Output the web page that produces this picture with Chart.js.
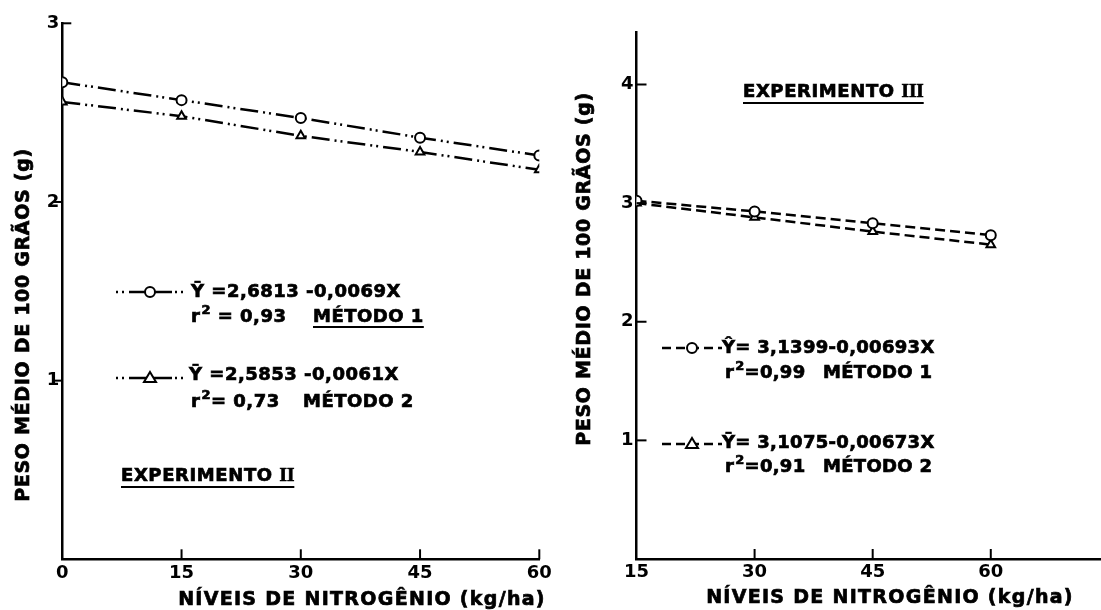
<!DOCTYPE html>
<html>
<head>
<meta charset="utf-8">
<script src="https://cdn.jsdelivr.net/npm/chart.js@4.4.0/dist/chart.umd.min.js"></script>
<style>
html, body { margin: 0; padding: 0; background: #fff; }
#wrap { position: relative; width: 1101px; height: 610px; overflow: hidden; background: #fff; }
#c1 { position: absolute; left: 0; top: 0; }
#c2 { position: absolute; left: 565px; top: 0; }
</style>
</head>
<body>
<div id="wrap">
  <canvas id="c1" width="565" height="610"></canvas>
  <canvas id="c2" width="536" height="610"></canvas>
</div>
<script>
// Experimento II
const nivelII = [0, 15, 30, 45, 60];
const metodo1II = [2.67, 2.57, 2.47, 2.36, 2.26];
const metodo2II = [2.56, 2.48, 2.37, 2.28, 2.18];
const xTicksII = [0, 15, 30, 45, 60];
const yTicksII = [1, 2, 3];

// Experimento III
const nivelIII = [15, 30, 45, 60];
const metodo1III = [3.02, 2.93, 2.83, 2.73];
const metodo2III = [3.00, 2.88, 2.76, 2.65];
const xTicksIII = [15, 30, 45, 60];
const yTicksIII = [1, 2, 3, 4];

const FONTE = 'DejaVu Sans';
const tituloX = 'NÍVEIS DE NITROGÊNIO (kg/ha)';
const tituloY = 'PESO MÉDIO DE 100 GRÃOS (g)';

function pares(xs, ys){ return xs.map((x, i) => ({ x, y: ys[i] })); }

function serie(xs, ys, estilo, tracejado){
  return {
    data: pares(xs, ys),
    borderColor: '#000', borderWidth: 2.5, borderDash: tracejado,
    pointStyle: estilo, pointRadius: 5, pointBorderWidth: 2,
    pointBackgroundColor: '#fff', pointBorderColor: '#000',
    fill: false, tension: 0
  };
}

function eixo(min, max, valores, extra){
  return Object.assign({
    type: 'linear', min, max,
    afterBuildTicks(s){ s.ticks = valores.map(v => ({ value: v })); },
    grid: { display: false, drawTicks: false },
    border: { display: true, color: '#000', width: 2.5 },
    ticks: { color: '#000', font: { family: FONTE, weight: 'bold', size: 18 }, maxRotation: 0, autoSkip: false }
  }, extra);
}

// helpers de texto
function fonte(ctx, size, fam){ ctx.font = 'bold ' + size + 'px "' + (fam || FONTE) + '"'; }
function texto(ctx, s, x, y, size, fam){
  fonte(ctx, size, fam);
  ctx.save(); ctx.setLineDash([]); ctx.lineWidth = 0.7;
  ctx.fillText(s, x, y); ctx.strokeText(s, x, y);
  ctx.restore();
  return x + ctx.measureText(s).width;
}
function sublinha(ctx, x1, x2, y){ ctx.save(); ctx.setLineDash([]); ctx.lineWidth = 2; ctx.beginPath(); ctx.moveTo(x1, y); ctx.lineTo(x2, y); ctx.stroke(); ctx.restore(); }
function r2(ctx, x, y, resto){
  let px = texto(ctx, 'r', x, y, 18);
  px = texto(ctx, '2', px + 1, y - 8, 13);
  return texto(ctx, resto, px, y, 18);
}
function marcador(ctx, tipo, x, y){
  ctx.save(); ctx.setLineDash([]); ctx.lineWidth = 2; ctx.fillStyle = '#fff';
  ctx.beginPath();
  if (tipo === 'circle') ctx.arc(x, y, 5, 0, Math.PI * 2);
  else { ctx.moveTo(x, y - 6); ctx.lineTo(x + 6, y + 4); ctx.lineTo(x - 6, y + 4); ctx.closePath(); }
  ctx.fill(); ctx.stroke(); ctx.restore();
}
function traco(ctx, x1, x2, y, dash){
  ctx.save(); ctx.lineWidth = 2.5; ctx.setLineDash(dash); ctx.beginPath(); ctx.moveTo(x1, y); ctx.lineTo(x2, y); ctx.stroke(); ctx.restore();
}
function experimento(ctx, num, x, y){
  ctx.letterSpacing = '0.6px';
  const px = texto(ctx, 'EXPERIMENTO ', x, y, 18);
  ctx.letterSpacing = '0px';
  const fim = texto(ctx, num, px, y, 19, 'Liberation Serif');
  sublinha(ctx, x, fim, y + 6);
}
function titulos(ctx, xc, xy, yx, yc){
  ctx.save(); fonte(ctx, 19); ctx.textAlign = 'center'; ctx.textBaseline = 'middle'; ctx.lineWidth = 0.7;
  ctx.letterSpacing = '1.3px';
  ctx.fillText(tituloX, xc, xy); ctx.strokeText(tituloX, xc, xy);
  ctx.letterSpacing = '0.7px';
  ctx.translate(yx, yc); ctx.rotate(-Math.PI / 2);
  ctx.fillText(tituloY, 0, 0); ctx.strokeText(tituloY, 0, 0);
  ctx.restore();
}

// marcas de escala desenhadas a partir das escalas do gráfico
function marcas(xLen, yLen){
  return {
    id: 'marcas',
    afterDraw(chart){
      const { ctx, scales: { x, y } } = chart;
      ctx.save(); ctx.strokeStyle = '#000'; ctx.lineWidth = 2;
      x.ticks.forEach(t => {
        if (t.value === x.min) return;
        const px = x.getPixelForValue(t.value);
        ctx.beginPath(); ctx.moveTo(px, y.bottom); ctx.lineTo(px, y.bottom - xLen); ctx.stroke();
      });
      y.ticks.forEach(t => {
        const py = y.getPixelForValue(t.value);
        const d = (t.value === y.max) ? Math.abs(yLen) : yLen;
        ctx.beginPath(); ctx.moveTo(x.left, py); ctx.lineTo(x.left + d, py); ctx.stroke();
      });
      ctx.restore();
    }
  };
}

const base = { responsive: false, animation: false, devicePixelRatio: 1, events: [], plugins: { legend: { display: false }, tooltip: { enabled: false } } };

// Gráfico esquerdo
new Chart(document.getElementById('c1'), {
  type: 'line',
  data: { datasets: [
    serie(nivelII, metodo1II, 'circle', [18, 5, 2, 4, 2, 5]),
    serie(nivelII, metodo2II, 'triangle', [18, 5, 2, 4, 2, 5])
  ] },
  options: Object.assign({}, base, {
    layout: { autoPadding: false, padding: { top: 23.3, right: 25.7, left: 0, bottom: 0 } },
    scales: {
      x: eixo(0, 60, xTicksII, { afterFit(s){ s.height = 50.7; } }),
      y: eixo(0, 3, yTicksII, { afterFit(s){ s.width = 62.3; } })
    }
  }),
  plugins: [marcas(10, -9), {
    id: 'notasII',
    afterDraw(chart){
      const ctx = chart.ctx;
      ctx.save(); ctx.fillStyle = '#000'; ctx.strokeStyle = '#000'; ctx.textBaseline = 'alphabetic';
      traco(ctx, 116, 128, 292, [2, 4]); traco(ctx, 129, 172, 292, []); traco(ctx, 175, 187, 292, [2, 4]);
      marcador(ctx, 'circle', 150, 292);
      ctx.letterSpacing = '0.5px';
      texto(ctx, 'Ȳ =2,6813 -0,0069X', 191, 297, 18);
      r2(ctx, 191, 322, ' = 0,93');
      const fim1 = texto(ctx, 'MÉTODO 1', 313, 322, 18);
      sublinha(ctx, 313, fim1, 327);
      traco(ctx, 116, 128, 378, [2, 4]); traco(ctx, 129, 172, 378, []); traco(ctx, 175, 187, 378, [2, 4]);
      marcador(ctx, 'triangle', 150, 378);
      texto(ctx, 'Ȳ =2,5853 -0,0061X', 189, 380, 18);
      r2(ctx, 191, 407, '= 0,73');
      texto(ctx, 'MÉTODO 2', 303, 407, 18);
      experimento(ctx, 'II', 121, 481);
      titulos(ctx, 362, 600, 24, 325);
      ctx.restore();
    }
  }]
});

// Gráfico direito
new Chart(document.getElementById('c2'), {
  type: 'line',
  data: { datasets: [
    serie(nivelIII, metodo1III, 'circle', [10, 5]),
    serie(nivelIII, metodo2III, 'triangle', [10, 5])
  ] },
  options: Object.assign({}, base, {
    layout: { autoPadding: false, padding: { top: 32.3, right: 0, left: 0, bottom: 0 } },
    scales: {
      x: eixo(15, 74, xTicksIII, { afterFit(s){ s.height = 51; } }),
      y: eixo(0, 4.44, yTicksIII, { afterFit(s){ s.width = 71.5; } })
    }
  }),
  plugins: [marcas(10, 10), {
    id: 'notasIII',
    afterDraw(chart){
      const ctx = chart.ctx;
      const o = -565;
      ctx.save(); ctx.fillStyle = '#000'; ctx.strokeStyle = '#000'; ctx.textBaseline = 'alphabetic';
      experimento(ctx, 'III', 743 + o, 97);
      traco(ctx, 662 + o, 722 + o, 348, [9, 5]);
      marcador(ctx, 'circle', 692 + o, 348);
      ctx.letterSpacing = '0.3px';
      texto(ctx, 'Ŷ= 3,1399-0,00693X', 722 + o, 353, 18);
      r2(ctx, 725 + o, 378, '=0,99');
      texto(ctx, 'MÉTODO 1', 823 + o, 378, 18);
      traco(ctx, 662 + o, 722 + o, 444, [9, 5]);
      marcador(ctx, 'triangle', 692 + o, 444);
      texto(ctx, 'Ȳ= 3,1075-0,00673X', 722 + o, 448, 18);
      r2(ctx, 725 + o, 472, '=0,91');
      texto(ctx, 'MÉTODO 2', 823 + o, 472, 18);
      titulos(ctx, 890 + o, 598, 585 + o, 269);
      ctx.restore();
    }
  }]
});
</script>
</body>
</html>
